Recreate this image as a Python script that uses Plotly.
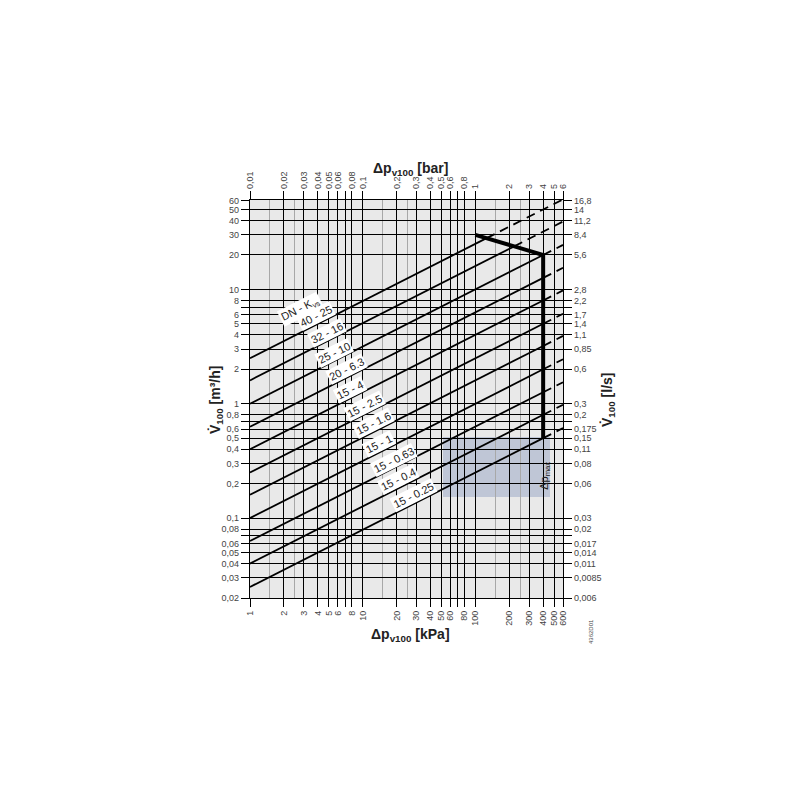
import numpy as np
import plotly.graph_objects as go

# ---------------- data ----------------
kvs = [25, 16, 10, 6.3, 4, 2.5, 1.6, 1, 0.63, 0.4, 0.25]
kvs_labels = ["40 - 25", "32 - 16", "25 - 10", "20 - 6.3", "15 - 4", "15 - 2.5",
              "15 - 1.6", "15 - 1", "15 - 0.63", "15 - 0.4", "15 - 0.25"]
label_dp = [4.1, 5.1, 5.9, 7.7, 8.2, 11.1, 13.4, 14.8, 20.1, 22.3, 30.3]
header_dp = 3.2

dp_start = 1
dp_end = 600
dpmax_x = [100, 400, 400]
dpmax_y = [30, 20, 0.5]

kpa_ticks = [1, 2, 3, 4, 5, 6, 7, 8, 10, 20, 30, 40, 50, 60, 70, 80, 100, 200, 300, 400, 500, 600]
kpa_text = ["1", "2", "3", "4", "5", "6", "", "8", "10", "20", "30", "40", "50", "60", "", "80",
            "100", "200", "300", "400", "500", "600"]
bar_text = ["0,01", "0,02", "0,03", "0,04", "0,05", "0,06", "", "0,08", "0,1", "0,2", "0,3", "0,4",
            "0,5", "0,6", "", "0,8", "1", "2", "3", "4", "5", "6"]
kpa_minor = [1.5, 2.5, 15, 25, 150, 250]

m3h_ticks = [0.02, 0.03, 0.04, 0.05, 0.06, 0.07, 0.08, 0.1, 0.2, 0.3, 0.4, 0.5, 0.6, 0.7, 0.8,
             1, 2, 3, 4, 5, 6, 7, 8, 10, 20, 30, 40, 50, 60]
m3h_text = ["0,02", "0,03", "0,04", "0,05", "0,06", "", "0,08", "0,1", "0,2", "0,3", "0,4", "0,5",
            "0,6", "", "0,8", "1", "2", "3", "4", "5", "6", "", "8", "10", "20", "30", "40", "50", "60"]
ls_text = ["0,006", "0,0085", "0,011", "0,014", "0,017", "", "0,02", "0,03", "0,06", "0,08", "0,11",
           "0,15", "0,175", "", "0,2", "0,3", "0,6", "0,85", "1,1", "1,4", "1,7", "", "2,2", "2,8",
           "5,6", "8,4", "11,2", "14", "16,8"]

y_lo, y_hi = 0.02, 60.5

# page offset (browser body margin) and plot box in page pixels
OFF = 8
PL, PR, PT, PB = 250, 563, 200, 598


def px_x(p):
    return (p - PL) / (PR - PL)


def px_y(p):
    return (PB - p) / (PB - PT)


def flow(k, dp):
    return k * np.sqrt(np.asarray(dp, dtype=float) / 100.0)


def boundary_dp(k):
    # where the Kvs line meets the dp_max limit line
    if flow(k, dpmax_x[1]) <= dpmax_y[1]:
        return dpmax_x[1]
    lx0, lx1 = np.log10(dpmax_x[0]), np.log10(dpmax_x[1])
    ly0, ly1 = np.log10(dpmax_y[0]), np.log10(dpmax_y[1])
    s = (ly1 - ly0) / (lx1 - lx0)
    L = (ly0 - s * lx0 - np.log10(k) + 1.0) / (0.5 - s)
    return 10 ** L


fig = go.Figure()

fig.add_shape(type="rect", xref="paper", yref="paper", x0=px_x(443), x1=px_x(550),
              y0=px_y(497), y1=px_y(437), fillcolor="rgba(140,155,190,0.45)",
              line=dict(width=0), layer="below")

for k in kvs:
    xb = boundary_dp(k)
    xs = [dp_start, xb]
    fig.add_trace(go.Scatter(x=xs, y=flow(k, xs), mode="lines",
                             line=dict(color="black", width=1.8), showlegend=False, hoverinfo="skip"))
    xd = [xb, dp_end]
    fig.add_trace(go.Scatter(x=xd, y=flow(k, xd), mode="lines",
                             line=dict(color="black", width=1.8, dash="9px,6px"), showlegend=False,
                             hoverinfo="skip"))

fig.add_trace(go.Scatter(x=dpmax_x, y=dpmax_y, mode="lines", line=dict(color="black", width=4),
                         showlegend=False, hoverinfo="skip"))

fig.add_trace(go.Scatter(x=[dp_start, dp_end], y=[y_lo, y_hi], xaxis="x2", yaxis="y2", mode="markers",
                         marker=dict(opacity=0), showlegend=False, hoverinfo="skip"))

ann_font = dict(family="Liberation Sans, Arial, sans-serif", size=11, color="#222")
for k, lab, d in zip(kvs, kvs_labels, label_dp):
    fig.add_annotation(x=np.log10(d), y=np.log10(float(flow(k, d))), text=lab, showarrow=False,
                       textangle=-26.6, font=ann_font, bgcolor="white", borderpad=1, yshift=7, xshift=-3)
fig.add_annotation(x=np.log10(header_dp), y=np.log10(float(flow(kvs[0], header_dp))),
                   text="DN - K<sub>vs</sub>", showarrow=False, textangle=-26.6, font=ann_font,
                   bgcolor="white", borderpad=1, yshift=20, xshift=-6)

fig.add_annotation(x=np.log10(dpmax_x[1]), y=np.log10(0.235), text="Δp<sub>max</sub>", showarrow=False,
                   textangle=-90, font=dict(family="Liberation Sans, Arial, sans-serif", size=11, color="#222"),
                   xshift=1)

title_font = dict(family="Liberation Sans, Arial, sans-serif", size=14, color="#222")
centered = dict(xref="paper", yref="paper", showarrow=False, xanchor="center", yanchor="middle")
fig.add_annotation(centered, x=px_x(410), y=px_y(169),
                   text="<b>Δp<sub>v100</sub> [bar]</b>", font=title_font)
fig.add_annotation(centered, x=px_x(410), y=px_y(635),
                   text="<b>Δp<sub>v100</sub> [kPa]</b>", font=title_font)
fig.add_annotation(centered, x=px_x(216), y=px_y(400),
                   text="<b>V̇<sub>100</sub> [m³/h]</b>", textangle=-90, font=title_font)
fig.add_annotation(centered, x=px_x(608), y=px_y(400),
                   text="<b>V̇<sub>100</sub> [l/s]</b>", textangle=-90, font=title_font)
fig.add_annotation(centered, x=px_x(591), y=px_y(632),
                   text="4362D01", textangle=-90,
                   font=dict(family="Liberation Sans, Arial, sans-serif", size=6, color="#444"))

tick_font = dict(family="Liberation Sans, Arial, sans-serif", size=9, color="#444")
xr = [np.log10(dp_start), np.log10(dp_end)]
yr = [np.log10(y_lo), np.log10(y_hi)]

common_x = dict(type="log", range=xr, tickmode="array", tickvals=kpa_ticks, ticks="outside", ticklen=8,
                tickwidth=1.4, tickcolor="black", tickangle=-90, tickfont=tick_font, zeroline=False)
common_y = dict(type="log", range=yr, tickmode="array", tickvals=m3h_ticks, ticks="outside", ticklen=8,
                tickwidth=1.4, tickcolor="black", tickfont=tick_font, zeroline=False)

fig.update_layout(
    width=800, height=800,
    margin=dict(l=PL - OFF, r=800 - PR + OFF, t=PT - OFF, b=800 - PB + OFF),
    paper_bgcolor="white", plot_bgcolor="#e9e9e9",
    showlegend=False,
    xaxis=dict(common_x, ticktext=kpa_text, showgrid=True, gridcolor="black", gridwidth=1.4,
               showline=True, linecolor="black", linewidth=1.4,
               minor=dict(tickvals=kpa_minor, showgrid=True, gridcolor="#a8a8a8", gridwidth=1.2, ticks="")),
    xaxis2=dict(common_x, ticktext=bar_text, overlaying="x", side="top", showgrid=False,
                showline=True, linecolor="black", linewidth=1.4),
    yaxis=dict(common_y, ticktext=m3h_text, showgrid=True, gridcolor="black", gridwidth=1.4,
               showline=True, linecolor="black", linewidth=1.4),
    yaxis2=dict(common_y, ticktext=ls_text, overlaying="y", side="right", showgrid=False,
                showline=True, linecolor="black", linewidth=1.4),
)

fig.write_html("out.html")
